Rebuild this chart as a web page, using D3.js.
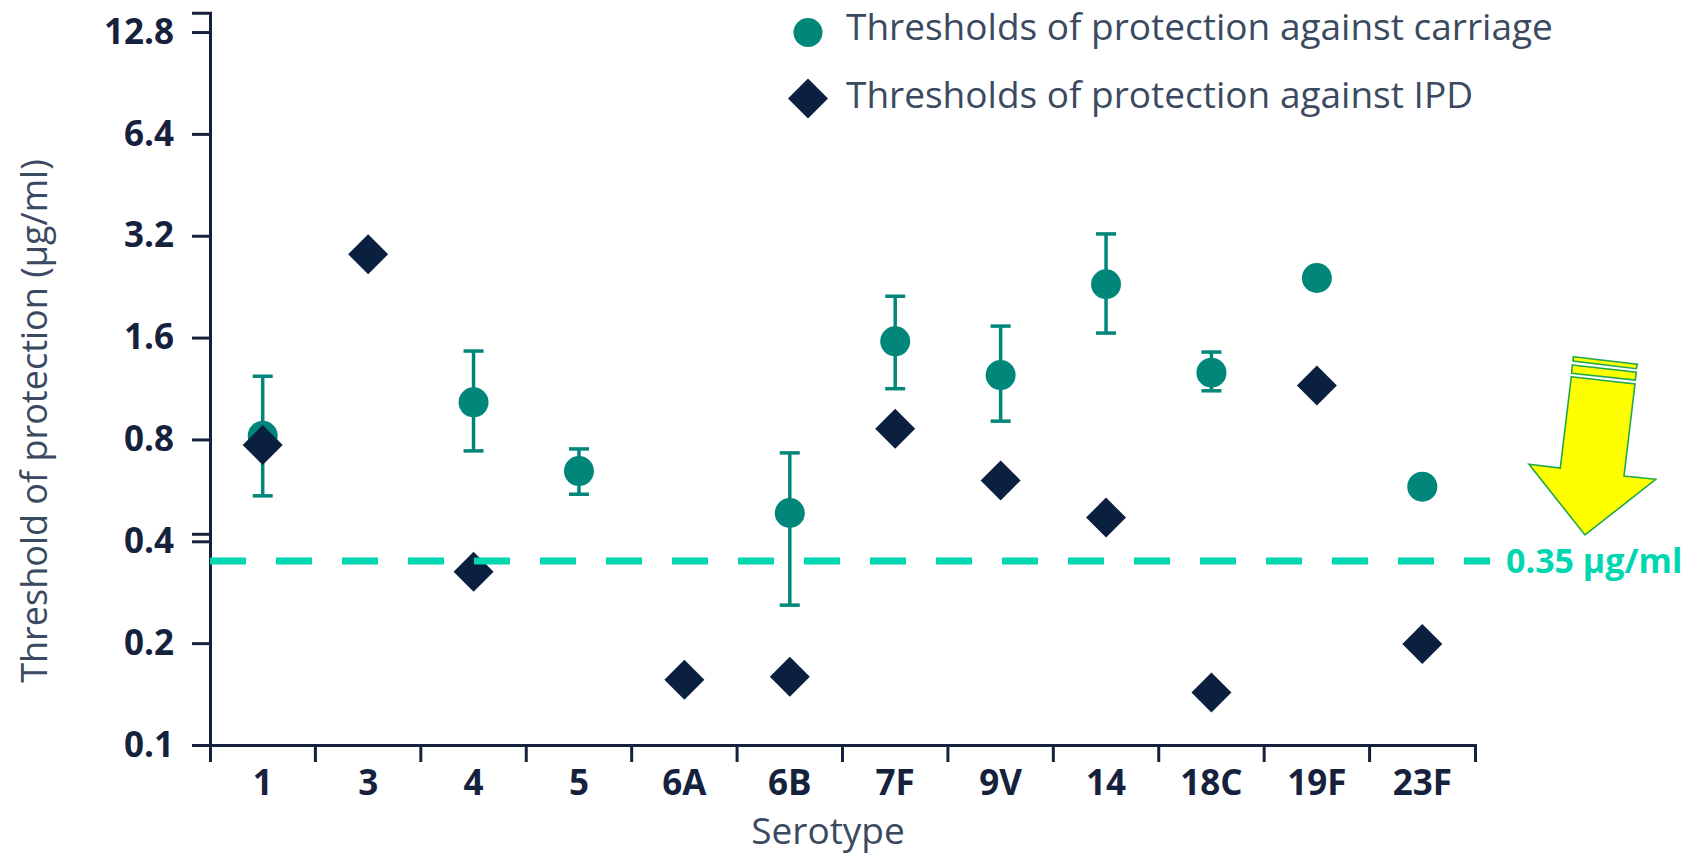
<!DOCTYPE html>
<html>
<head>
<meta charset="utf-8">
<script src="https://cdn.jsdelivr.net/npm/d3@7"></script>
<style>
  html, body { margin: 0; padding: 0; background: #ffffff; }
  svg { display: block; }
</style>
</head>
<body>
<svg id="chart" width="1693" height="856"></svg>
<script>
// Serotypes on the x axis
const serotypes = ["1", "3", "4", "5", "6A", "6B", "7F", "9V", "14", "18C", "19F", "23F"];

// Thresholds of protection against carriage (µg/ml), with interval bounds
const carriage     = [0.82, null, 1.03, 0.645, null, 0.485, 1.56, 1.24, 2.30, 1.26, 2.40, 0.58];
const carriageLow  = [0.545, null, 0.74, 0.551, null, 0.259, 1.13, 0.906, 1.65, 1.114, null, null];
const carriageHigh = [1.23, null, 1.46, 0.75, null, 0.73, 2.12, 1.73, 3.24, 1.45, null, null];

// Thresholds of protection against IPD (µg/ml)
const ipd = [0.77, 2.82, 0.325, null, 0.156, 0.159, 0.86, 0.605, 0.47, 0.143, 1.155, 0.199];

// Log2 axis ticks
const yTicks = [0.1, 0.2, 0.4, 0.8, 1.6, 3.2, 6.4, 12.8];
const yTopValue = 14.6;

// Reference threshold
const refValue = 0.35;
const refLabel = "0.35 µg/ml";

const legendItems = [
  { label: "Thresholds of protection against carriage", shape: "circle" },
  { label: "Thresholds of protection against IPD", shape: "diamond" }
];

const colTeal = "#00877a";
const colNavy = "#0b1f3e";
const colAxis = "#16223d";
const colText = "#3b4a60";
const colRef  = "#00d6b0";
const fontFamily = "'Open Sans', 'Noto Sans', sans-serif";

const svg = d3.select("#chart");
svg.append("rect").attr("width", 1693).attr("height", 856).attr("fill", "#ffffff");

const plot = { left: 210, right: 1475, top: 12.7, bottom: 745 };

const x = d3.scaleBand().domain(serotypes).range([plot.left, plot.right]).padding(0);
const y = d3.scaleLog().base(2).domain([0.1, yTopValue]).range([plot.bottom, plot.top]);

const cx = s => x(s) + x.bandwidth() / 2;

// ---- Y axis
const yAxis = svg.append("g")
  .attr("transform", `translate(${plot.left},0)`)
  .call(d3.axisLeft(y).tickValues(yTicks).tickFormat(d3.format("")).tickSize(18).tickSizeOuter(18).tickPadding(18));
yAxis.select(".domain").attr("stroke", colAxis).attr("stroke-width", 3);
yAxis.selectAll(".tick line").attr("stroke", colAxis).attr("stroke-width", 3);
yAxis.selectAll(".tick text")
  .attr("fill", colAxis)
  .attr("font-family", fontFamily)
  .attr("font-weight", 700)
  .attr("font-size", 35);
// doubled tick mark at 0.4
yAxis.append("line")
  .attr("x1", -18).attr("x2", 0)
  .attr("y1", y(0.4) - 7).attr("y2", y(0.4) - 7)
  .attr("stroke", colAxis).attr("stroke-width", 3);

// ---- X axis
const xAxis = svg.append("g")
  .attr("transform", `translate(0,${plot.bottom})`)
  .call(d3.axisBottom(x).tickSize(0).tickSizeOuter(17).tickPadding(25));
xAxis.select(".domain").attr("stroke", colAxis).attr("stroke-width", 3);
xAxis.selectAll(".tick text")
  .attr("fill", colAxis)
  .attr("font-family", fontFamily)
  .attr("font-weight", 700)
  .attr("font-size", 35);
// boundary ticks between serotypes
xAxis.selectAll("line.sep")
  .data(serotypes.slice(1))
  .join("line")
  .attr("class", "sep")
  .attr("x1", d => x(d)).attr("x2", d => x(d))
  .attr("y1", 0).attr("y2", 17)
  .attr("stroke", colAxis).attr("stroke-width", 3);

// ---- Axis titles
svg.append("text")
  .attr("transform", `translate(47,${(plot.bottom + 97) / 2}) rotate(-90)`)
  .attr("text-anchor", "middle")
  .attr("fill", colText)
  .attr("font-family", fontFamily)
  .attr("font-size", 36)
  .text("Threshold of protection (µg/ml)");

svg.append("text")
  .attr("x", 828).attr("y", 844)
  .attr("text-anchor", "middle")
  .attr("fill", colText)
  .attr("font-family", fontFamily)
  .attr("font-size", 37)
  .text("Serotype");

// ---- Carriage error bars
const errData = serotypes.map((s, i) => ({ s, lo: carriageLow[i], hi: carriageHigh[i] }))
  .filter(d => d.lo != null && d.hi != null);
const capW = 10;
const err = svg.append("g").attr("stroke", colTeal).attr("stroke-width", 3.5);
err.selectAll("line.v").data(errData).join("line").attr("class", "v")
  .attr("x1", d => cx(d.s)).attr("x2", d => cx(d.s))
  .attr("y1", d => y(d.lo)).attr("y2", d => y(d.hi));
err.selectAll("line.hi").data(errData).join("line").attr("class", "hi")
  .attr("x1", d => cx(d.s) - capW).attr("x2", d => cx(d.s) + capW)
  .attr("y1", d => y(d.hi)).attr("y2", d => y(d.hi));
err.selectAll("line.lo").data(errData).join("line").attr("class", "lo")
  .attr("x1", d => cx(d.s) - capW).attr("x2", d => cx(d.s) + capW)
  .attr("y1", d => y(d.lo)).attr("y2", d => y(d.lo));

// ---- Carriage points
const carrData = serotypes.map((s, i) => ({ s, v: carriage[i] })).filter(d => d.v != null);
svg.append("g").selectAll("circle").data(carrData).join("circle")
  .attr("cx", d => cx(d.s)).attr("cy", d => y(d.v)).attr("r", 15)
  .attr("fill", colTeal);

// ---- IPD points
const diamond = d3.symbol().type(d3.symbolSquare).size(800);
const ipdData = serotypes.map((s, i) => ({ s, v: ipd[i] })).filter(d => d.v != null);
svg.append("g").selectAll("path").data(ipdData).join("path")
  .attr("d", diamond)
  .attr("transform", d => `translate(${cx(d.s)},${y(d.v)}) rotate(45)`)
  .attr("fill", colNavy);

// ---- Reference line
svg.append("line")
  .attr("x1", plot.left).attr("x2", 1490)
  .attr("y1", y(refValue)).attr("y2", y(refValue))
  .attr("stroke", colRef).attr("stroke-width", 7)
  .attr("stroke-dasharray", "36,30");
svg.append("text")
  .attr("x", 1506).attr("y", y(refValue))
  .attr("dy", "0.35em")
  .attr("fill", colRef)
  .attr("font-family", fontFamily)
  .attr("font-weight", 700)
  .attr("font-size", 34)
  .text(refLabel);

// ---- Downward arrow pointing at the reference label
const arrowTip = [1585, 535];
const arrowShapes = [
  [[-11.7, -178.3], [52.3, -170.7], [51.3, -166.3], [-12, -174]],
  [[-12.7, -170], [51.3, -162.7], [50.3, -155], [-13.3, -161.7]],
  [[-13.7, -158.3], [50, -151], [39, -59], [70.7, -55.7], [0, 0], [-56, -70.7], [-24.7, -67]]
];
const arrow = svg.append("g").attr("transform", `translate(${arrowTip[0]},${arrowTip[1]})`);
arrow.selectAll("polygon").data(arrowShapes).join("polygon")
  .attr("points", d => d.map(p => p.join(",")).join(" "))
  .attr("fill", "#ffff00")
  .attr("stroke", "#22a84a")
  .attr("stroke-width", 1.6)
  .attr("stroke-linejoin", "miter");

// ---- Legend
const legend = svg.append("g").attr("transform", "translate(808,0)");
const rowY = [32.5, 98.5];
const baseY = [40, 108];
legendItems.forEach((item, i) => {
  if (item.shape === "circle") {
    legend.append("circle").attr("cx", 0).attr("cy", rowY[i]).attr("r", 14.5).attr("fill", colTeal);
  } else {
    legend.append("path").attr("d", diamond)
      .attr("transform", `translate(0,${rowY[i]}) rotate(45)`)
      .attr("fill", colNavy);
  }
  legend.append("text")
    .attr("x", 38).attr("y", baseY[i])
    .attr("fill", colText)
    .attr("font-family", fontFamily)
    .attr("font-size", 37)
    .text(item.label);
});
</script>
</body>
</html>
